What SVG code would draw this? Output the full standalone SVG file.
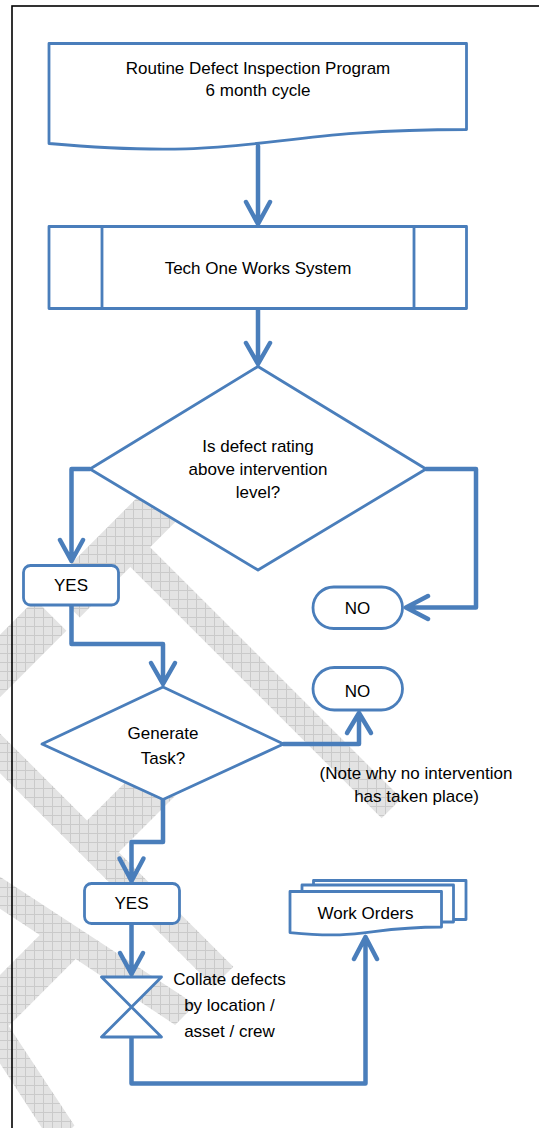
<svg xmlns="http://www.w3.org/2000/svg" width="539" height="1128" viewBox="0 0 539 1128">
<style>
.shape{fill:#fff;stroke:#4a7ebb;stroke-width:2.8;stroke-linejoin:round}
.conn{fill:none;stroke:#4a7ebb;stroke-width:4.5;stroke-linejoin:round;stroke-linecap:round}
.t{font-family:"Liberation Sans",Arial,sans-serif;font-size:17px;fill:#000;text-anchor:middle}
</style>
<defs>
<pattern id="wm" patternUnits="userSpaceOnUse" width="9" height="9" patternTransform="scale(1.923,1) rotate(45)">
<rect width="9" height="9" fill="#e3e3e3"/>
<path d="M0,0.5H9M0.5,0V9" stroke="#cacaca" stroke-width="1"/>
</pattern>
</defs>
<rect width="539" height="1128" fill="#fff"/>
<g id="watermark" transform="translate(385,815) rotate(-45) scale(0.52,1)">
<text x="195.4" y="0" text-anchor="end" font-family="Liberation Sans" font-size="581" fill="url(#wm)">DRAFT</text>
</g>
<rect id="frame" x="12" y="6" width="700" height="1200" fill="none" stroke="#000" stroke-width="1.6"/>
<g id="connectors">
<path class="conn" d="M258,146V224M246,202L258,224L270,202"/>
<path class="conn" d="M258,308.5V364M246,343L258,364L270,343"/>
<path class="conn" d="M90,469H71.5V561M60,540L71.5,561L83,540"/>
<path class="conn" d="M426,469H476V607.5H406M428,596L406,607.5L428,619"/>
<path class="conn" d="M71.5,605V644H163V684M151,663L163,684L175,663"/>
<path class="conn" d="M283.5,744H359V713M347,733L359,713L371,733"/>
<path class="conn" d="M163,799.5V842H131.5V881M119.5,858.5L131.5,881L143.5,858.5"/>
<path class="conn" d="M131.5,923.5V974M120,953L131.5,974L143,953"/>
<path class="conn" d="M131.5,1037V1083.5H365.5V937M354,959L365.5,937L377,959"/>
</g>
<g id="n-routine">
<path class="shape" d="M49,43.5H466.5V129.5C258,129.5 258,162 49,143.5Z"/>
<text class="t" x="258" y="74">Routine Defect Inspection Program</text>
<text class="t" x="258" y="96">6 month cycle</text>
</g>
<g id="n-techone">
<rect class="shape" x="49" y="226.5" width="417.5" height="82"/>
<path class="shape" d="M102,226.5V308.5M414,226.5V308.5"/>
<text class="t" x="258" y="274">Tech One Works System</text>
</g>
<g id="n-decision1">
<path class="shape" d="M258,366.5L426,469L258,570L90,469Z"/>
<text class="t" x="258" y="452">Is defect rating</text>
<text class="t" x="258" y="475">above intervention</text>
<text class="t" x="258" y="497.5">level?</text>
</g>
<g id="n-yes1">
<rect class="shape" x="23.5" y="565.5" width="95" height="39.5" rx="7"/>
<text class="t" x="71" y="591">YES</text>
</g>
<g id="n-no1">
<rect class="shape" x="313" y="587" width="89.5" height="41.5" rx="20.75"/>
<text class="t" x="357.5" y="614">NO</text>
</g>
<g id="n-decision2">
<path class="shape" d="M163,687L283.5,744L163,799.5L42,744Z"/>
<text class="t" x="163" y="739">Generate</text>
<text class="t" x="163" y="764">Task?</text>
</g>
<g id="n-no2">
<rect class="shape" x="313" y="667.5" width="89.5" height="42.5" rx="21.25"/>
<text class="t" x="357.5" y="696.5">NO</text>
</g>
<g id="n-note">
<text class="t" x="416" y="779">(Note why no intervention</text>
<text class="t" x="416.5" y="802">has taken place)</text>
</g>
<g id="n-yes2">
<rect class="shape" x="84.5" y="883.5" width="95" height="40" rx="7"/>
<text class="t" x="131.5" y="909">YES</text>
</g>
<g id="n-collate">
<path class="shape" d="M101.5,977H161.5L101.5,1037H161.5Z"/>
<text class="t" x="229.5" y="985">Collate defects</text>
<text class="t" x="229.5" y="1011">by location /</text>
<text class="t" x="229.5" y="1037">asset / crew</text>
</g>
<g id="n-workorders">
<path class="shape" d="M313.5,885V880.5H466V919.5H453.5"/>
<path class="shape" d="M302,891.5V885H453.5V922H441.5"/>
<path class="shape" d="M290,891.5H441.5V927C365.75,927 365.75,940.2 290,932.6Z"/>
<text class="t" x="365.5" y="919">Work Orders</text>
</g>
</svg>
